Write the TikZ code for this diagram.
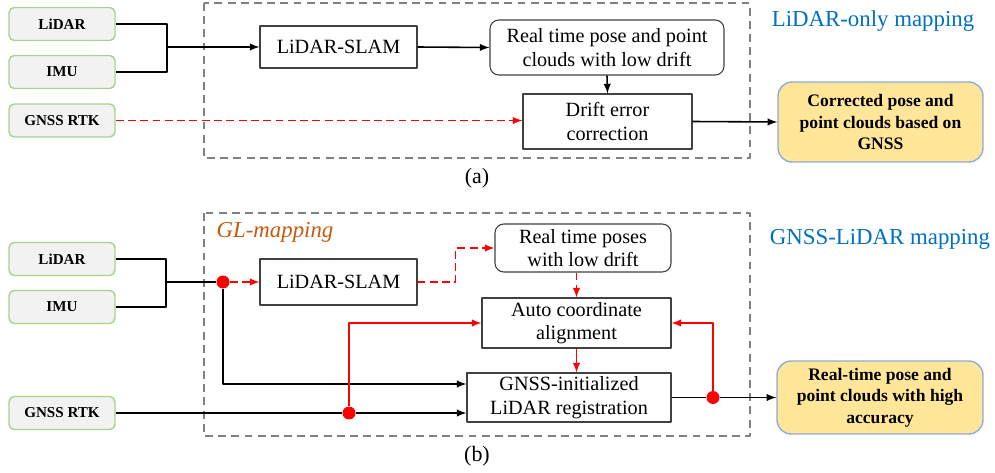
\documentclass[tikz,border=0pt]{standalone}
\usepackage{fontspec}
\setmainfont{Liberation Serif}
\usetikzlibrary{arrows}

\definecolor{srcgreen}{RGB}{169,209,142}
\definecolor{srcgray}{RGB}{242,242,242}
\definecolor{outyellow}{RGB}{255,230,153}
\definecolor{outblue}{RGB}{143,170,220}
\definecolor{titleblue}{RGB}{0,112,192}
\definecolor{glorange}{RGB}{197,90,17}

\begin{document}
\begin{tikzpicture}[x=0.02cm,y=-0.02cm,line join=round,
    srcbox/.style={draw=srcgreen,fill=srcgray,rounded corners=3pt,line width=0.8pt,
        minimum width=2.12cm,minimum height=0.66cm,inner sep=0pt,
        font=\bfseries\fontsize{8.6}{10}\selectfont},
    procbox/.style={draw=black!75,line width=0.6pt,align=center,inner sep=0pt,
        font=\fontsize{11.5}{13.3}\selectfont},
    posebox/.style={procbox,rounded corners=5pt},
    outbox/.style={draw=outblue,fill=outyellow,rounded corners=8pt,line width=0.8pt,
        align=center,inner sep=0pt,font=\bfseries\fontsize{10}{12.3}\selectfont},
    groupframe/.style={draw=black!50,line width=0.9pt,dash pattern=on 4.5pt off 3pt},
    flow/.style={-latex,line width=0.9pt},
    redflow/.style={flow,red},
    reddash/.style={redflow,dash pattern=on 4.5pt off 2.5pt},
    dot/.style={circle,fill=red,inner sep=0pt,minimum size=0.26cm},
    title/.style={text=titleblue,font=\fontsize{13}{15}\selectfont}]
    \useasboundingbox (0,0) rectangle (995,473);

    % (a) LiDAR-only mapping
    \draw[groupframe] (204,3) rectangle (750,158);
    \node[srcbox] (lidarA) at (62,24) {LiDAR};
    \node[srcbox] (imuA) at (62,72) {IMU};
    \node[srcbox] (gnssA) at (62,120.5) {GNSS RTK};
    \node[procbox,minimum width=3.14cm,minimum height=0.84cm] (slamA) at (338.5,47) {LiDAR-SLAM};
    \node[posebox,minimum width=4.68cm,minimum height=1.1cm] (poseA) at (607,47.5)
        {Real time pose and point\\clouds with low drift};
    \node[procbox,minimum width=3.38cm,minimum height=1.1cm] (driftA) at (607.5,121.5)
        {Drift error\\correction};
    \node[outbox,minimum width=4.1cm,minimum height=1.6cm] (outA) at (880.5,122)
        {Corrected pose and\\point clouds based on\\GNSS};
    \node[title] (titleA) at (873,21) {LiDAR-only mapping};
    \node[font=\fontsize{12.5}{15}\selectfont] (capA) at (477,178) {(a)};

    \coordinate (joinA) at (167,47);
    \draw[line width=0.9pt] (lidarA.east) -| (joinA) |- (imuA.east);
    \draw[flow] (joinA) -- (slamA.west);
    \draw[flow] (slamA.east) -- (poseA.west);
    \draw[flow] (poseA.south) -- (driftA.north);
    \draw[reddash] (gnssA.east) -- (gnssA.east -| driftA.west);
    \draw[flow] (driftA.east) -- (outA.west);

    % (b) GNSS-LiDAR mapping
    \draw[groupframe] (204,213) rectangle (750,436);
    \node[srcbox] (lidarB) at (62,259) {LiDAR};
    \node[srcbox] (imuB) at (62,307) {IMU};
    \node[srcbox] (gnssB) at (62,413) {GNSS RTK};
    \node[procbox,minimum width=3.14cm,minimum height=0.92cm] (slamB) at (338.5,282) {LiDAR-SLAM};
    \node[posebox,minimum width=3.52cm,minimum height=0.96cm] (poseB) at (583,248)
        {Real time poses\\with low drift};
    \node[procbox,minimum width=3.78cm,minimum height=1.0cm] (alignB) at (576.5,323)
        {Auto coordinate\\alignment};
    \node[procbox,minimum width=4.08cm,minimum height=0.98cm] (regB) at (569,397.5)
        {GNSS-initialized\\LiDAR registration};
    \node[outbox,minimum width=4.12cm,minimum height=1.46cm] (outB) at (880,397.5)
        {Real-time pose and\\point clouds with high\\accuracy};
    \node[title] (titleB) at (880,239) {GNSS-LiDAR mapping};
    \node[text=glorange,font=\itshape\fontsize{13}{15}\selectfont] (glmap) at (275,232) {GL-mapping};
    \node[font=\fontsize{12.5}{15}\selectfont] (capB) at (477,456) {(b)};

    % junction dots
    \coordinate (joinB) at (166,282);
    \node[dot] (dotL) at (223,282) {};
    \node[dot] (dotG) at (349,413) {};
    \node[dot] (dotR) at (713,397.5) {};

    \draw[line width=0.9pt] (lidarB.east) -| (joinB) |- (imuB.east);
    \draw[line width=0.9pt] (joinB) -- (dotL);
    \draw[reddash] (dotL) -- (slamB.west);
    \draw[flow] (dotL) |- ([yshift=0.27cm]regB.west);
    \draw[line width=0.9pt] (gnssB.east) -- (dotG);
    \draw[flow] (dotG) -- (dotG -| regB.west);
    \draw[redflow] (dotG) |- (alignB.west);
    \draw[reddash] (slamB.east) -- ++(38,0) |- (poseB.west);
    \draw[reddash] (alignB.north |- poseB.south) -- (alignB.north);
    \draw[redflow] (alignB.south) -- (alignB.south |- regB.north);
    \draw[line width=0.9pt] (regB.east) -- (dotR);
    \draw[flow] (dotR) -- (outB.west);
    \draw[redflow] (dotR) |- (alignB.east);
\end{tikzpicture}
\end{document}
